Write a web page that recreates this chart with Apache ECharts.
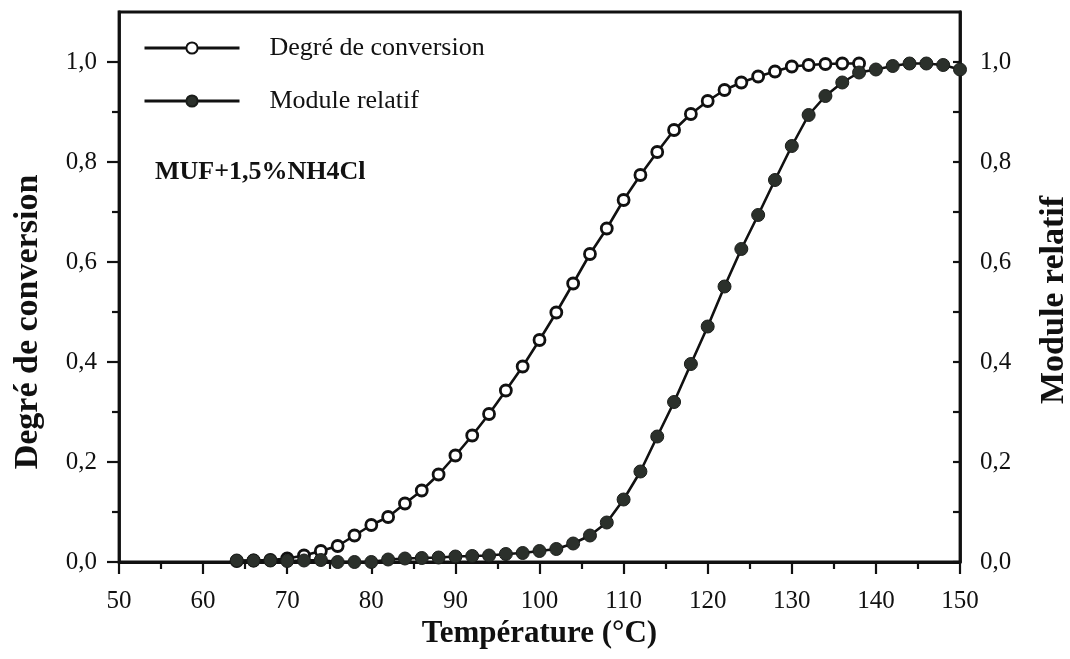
<!DOCTYPE html>
<html>
<head>
<meta charset="utf-8">
<script src="https://cdn.jsdelivr.net/npm/echarts@6/dist/echarts.min.js"></script>
<style>
html,body{margin:0;padding:0;background:#fff;}
#c{width:1070px;height:659px;}
</style>
</head>
<body>
<div id="c"></div>
<script>
// Degré de conversion (open circles)
const tempConversion = [64,66,68,70,72,74,76,78,80,82,84,86,88,90,92,94,96,98,100,102,104,106,108,110,112,114,116,118,120,122,124,126,128,130,132,134,136,138];
const degreConversion = [0.002,0.003,0.004,0.007,0.013,0.022,0.032,0.053,0.074,0.090,0.117,0.143,0.175,0.213,0.253,0.296,0.343,0.391,0.444,0.499,0.557,0.616,0.667,0.724,0.774,0.820,0.864,0.896,0.922,0.944,0.959,0.971,0.981,0.991,0.994,0.996,0.997,0.997];

// Module relatif (filled circles)
const tempModule = [64,66,68,70,72,74,76,78,80,82,84,86,88,90,92,94,96,98,100,102,104,106,108,110,112,114,116,118,120,122,124,126,128,130,132,134,136,138,140,142,144,146,148,150];
const moduleRelatif = [0.003,0.003,0.003,0.002,0.003,0.004,0.000,0.000,0.000,0.005,0.007,0.008,0.009,0.011,0.012,0.013,0.016,0.018,0.022,0.026,0.037,0.053,0.079,0.125,0.181,0.251,0.320,0.396,0.471,0.551,0.626,0.694,0.764,0.832,0.894,0.932,0.959,0.979,0.985,0.992,0.997,0.997,0.994,0.985];

const yMajorTicks = [0,0.2,0.4,0.6,0.8,1.0];
const yMinorTicks = [0.1,0.3,0.5,0.7,0.9];
const yAllTicks = [0,0.1,0.2,0.3,0.4,0.5,0.6,0.7,0.8,0.9,1.0];

const seriesNames = ['Degré de conversion','Module relatif'];
const xTitle = 'Température (°C)';
const yLeftTitle = 'Degré de conversion';
const yRightTitle = 'Module relatif';
const annotation = 'MUF+1,5%NH4Cl';

const FONT = '"Liberation Serif","Times New Roman",serif';
const INK = '#111';
const fmt = v => v.toFixed(1).replace('.', ',');

const chart = echarts.init(document.getElementById('c'), null, {renderer:'canvas'});
const yBase = {
  type:'value', min:0, max:1.1,
  splitLine:{show:false},
  axisLine:{show:true, onZero:false, lineStyle:{color:INK, width:2.8}}
};
chart.setOption({
  backgroundColor:'#fff',
  animation:false,
  grid:{left:119, right:110, top:12, bottom:97, show:true, borderColor:INK, borderWidth:2.8, backgroundColor:'transparent'},
  legend:{
    orient:'vertical', left:143, top:35, padding:0, itemWidth:95, itemHeight:14, itemGap:27,
    lineStyle:{width:3, color:INK},
    textStyle:{fontFamily:FONT, fontSize:26, color:INK, padding:[0,0,0,25]},
    data:seriesNames
  },
  xAxis:{
    type:'value', min:50, max:150, interval:10,
    name:xTitle, nameLocation:'middle', nameGap:55,
    nameTextStyle:{fontFamily:FONT, fontSize:31, fontWeight:'bold', color:INK},
    axisLine:{show:true, onZero:false, lineStyle:{color:INK, width:2.8}},
    axisTick:{show:true, inside:false, length:12, lineStyle:{color:INK, width:2.2}},
    minorTick:{show:true, splitNumber:2, length:7, lineStyle:{color:INK, width:2.2}},
    axisLabel:{fontFamily:FONT, fontSize:25, color:INK, margin:27},
    splitLine:{show:false}
  },
  yAxis:[
    Object.assign({}, yBase, {
      position:'left',
      axisTick:{show:true, inside:false, length:12, customValues:yMajorTicks, lineStyle:{color:INK, width:2.2}},
      axisLabel:{fontFamily:FONT, fontSize:25, color:INK, margin:22, customValues:yMajorTicks, formatter:fmt}
    }),
    Object.assign({}, yBase, {
      position:'right',
      axisTick:{show:true, inside:true, length:7, customValues:yAllTicks, lineStyle:{color:INK, width:2.2}},
      axisLabel:{fontFamily:FONT, fontSize:25, color:INK, margin:20, customValues:yMajorTicks, formatter:fmt}
    }),
    Object.assign({}, yBase, {
      position:'left',
      axisLine:{show:false},
      axisTick:{show:true, inside:false, length:7, customValues:yMinorTicks, lineStyle:{color:INK, width:2.2}},
      axisLabel:{show:false}
    })
  ],
  graphic:[
    {type:'text', x:28, y:322, rotation:Math.PI/2,
     style:{text:yLeftTitle, font:'bold 34px '+FONT, fill:INK, textAlign:'center', textVerticalAlign:'middle'}},
    {type:'text', x:1054, y:300, rotation:Math.PI/2,
     style:{text:yRightTitle, font:'bold 34px '+FONT, fill:INK, textAlign:'center', textVerticalAlign:'middle'}},
    {type:'text', x:155, y:172,
     style:{text:annotation, font:'bold 26px '+FONT, fill:INK, textAlign:'left', textVerticalAlign:'middle'}}
  ],
  series:[
    {
      name:seriesNames[0], type:'line', yAxisIndex:0,
      data:tempConversion.map((t,i)=>[t, degreConversion[i]]),
      symbol:'circle', symbolSize:11,
      itemStyle:{color:'#fff', borderColor:INK, borderWidth:2.8},
      lineStyle:{color:INK, width:2.6},
      z:2
    },
    {
      name:seriesNames[1], type:'line', yAxisIndex:1,
      data:tempModule.map((t,i)=>[t, moduleRelatif[i]]),
      symbol:'circle', symbolSize:13,
      itemStyle:{color:'#2b302b', borderColor:'#1a1d1a', borderWidth:1},
      lineStyle:{color:INK, width:2.6},
      z:3
    }
  ]
});
</script>
</body>
</html>
